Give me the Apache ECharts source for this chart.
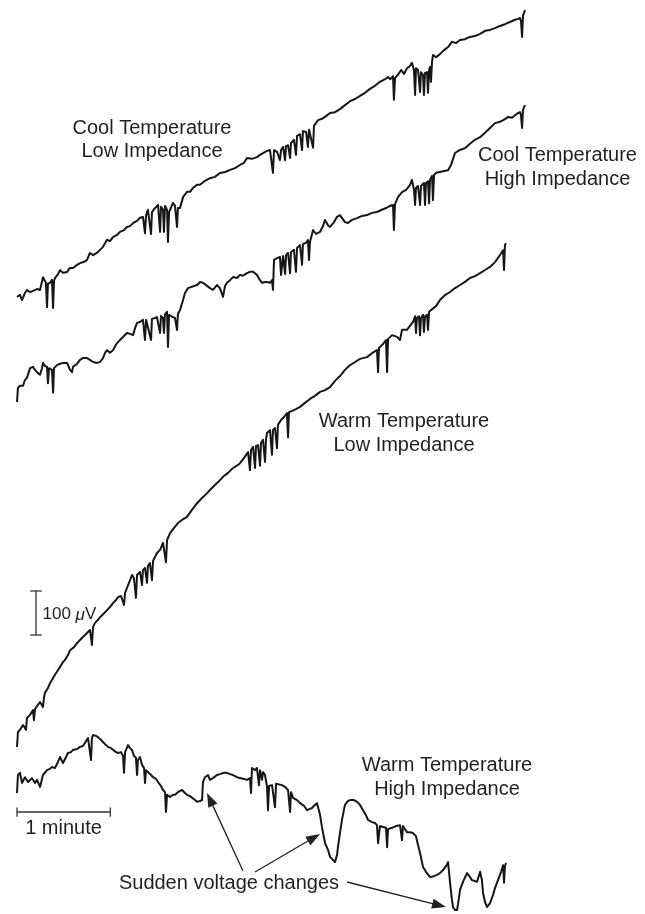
<!DOCTYPE html>
<html><head><meta charset="utf-8">
<script src="https://cdn.jsdelivr.net/npm/echarts@6/dist/echarts.min.js"></script>
<style>html,body{margin:0;padding:0;background:#fff}#c{width:645px;height:914px}</style>
</head><body><div id="c"></div>
<script>
// Each trace: [time (s), voltage change (µV) relative to the trace's starting level]
const coolLow = [[0,0],[1.9,5],[3.2,-7],[5.1,9],[6.4,16],[8.4,11],[10.3,14],[12.9,18],[14.8,16],[16.7,45],[18.6,32],[19.3,-23],[19.9,30],[21.2,32],[22.5,39],[23.2,-25],[23.8,36],[24.4,43],[26.4,52],[27.7,61],[29.6,55],[32.2,57],[34.1,66],[36.0,66],[38.6,73],[40.5,77],[43.1,80],[45.0,84],[46.9,100],[48.9,95],[51.4,100],[53.4,107],[55.3,114],[57.9,130],[59.8,127],[61.7,136],[64.3,141],[66.2,148],[68.8,152],[70.7,159],[72.7,161],[74.6,168],[77.2,173],[79.1,180],[81.0,182],[82.3,145],[83.0,186],[84.2,198],[86.2,143],[86.8,193],[88.7,202],[90.7,209],[92.0,148],[92.6,205],[93.9,198],[94.5,148],[95.2,207],[96.5,198],[97.1,125],[97.8,193],[98.4,198],[100.3,214],[101.6,207],[102.9,159],[103.5,202],[104.8,202],[106.8,227],[109.3,239],[111.3,239],[113.2,248],[115.8,255],[117.7,255],[120.9,264],[124.1,270],[127.3,273],[130.5,282],[133.8,284],[137.0,289],[140.2,293],[143.4,300],[146.0,305],[147.9,316],[151.1,314],[154.3,318],[156.3,323],[158.2,327],[160.8,332],[162.7,334],[164.6,282],[165.3,334],[167.2,330],[169.1,311],[169.8,334],[171.1,341],[172.4,311],[173.0,343],[174.3,345],[175.6,316],[176.2,350],[178.1,357],[179.4,323],[180.1,366],[182.0,370],[183.3,334],[183.9,377],[185.9,375],[187.1,341],[187.8,380],[188.4,384],[190.4,339],[191.0,389],[193.6,402],[196.1,405],[198.7,411],[201.3,418],[204.5,420],[207.7,427],[210.9,436],[214.2,445],[217.4,450],[220.6,457],[223.8,464],[227.0,473],[230.2,480],[233.4,489],[236.7,495],[238.6,500],[239.9,495],[241.8,502],[242.4,448],[243.1,498],[245.0,505],[247.0,516],[248.9,507],[250.8,520],[252.7,525],[254.0,532],[255.3,516],[256.0,459],[256.6,520],[257.9,516],[259.2,466],[259.8,511],[261.1,505],[261.7,459],[262.4,509],[263.7,511],[264.3,464],[265.0,516],[265.6,523],[266.2,489],[266.9,534],[267.5,550],[269.5,545],[272.0,552],[274.6,561],[277.2,568],[279.7,580],[282.3,577],[284.9,584],[288.1,586],[291.3,591],[294.5,593],[297.8,598],[301.0,605],[304.2,607],[307.4,611],[310.6,616],[313.8,620],[317.0,625],[320.3,630],[322.2,632],[323.5,634],[324.1,627],[324.8,591],[325.4,639],[326.7,652]];

const coolHigh = [[0,-32],[0.6,0],[1.9,5],[3.9,5],[5.1,18],[6.4,23],[8.4,45],[10.3,48],[11.6,41],[12.9,36],[14.8,30],[16.1,45],[16.7,57],[18.0,50],[19.3,48],[19.9,11],[20.6,45],[22.5,41],[23.2,-11],[23.8,45],[25.7,52],[27.7,55],[29.6,57],[32.2,57],[34.1,41],[35.4,36],[36.0,48],[38.6,55],[40.5,64],[42.4,68],[45.0,68],[46.9,64],[48.9,59],[51.4,57],[53.4,59],[55.3,68],[56.6,80],[57.9,86],[59.8,80],[61.7,86],[64.3,102],[66.2,109],[68.2,116],[70.7,125],[72.7,123],[74.6,120],[75.9,136],[77.2,148],[79.1,150],[81.0,155],[82.3,109],[83.0,155],[84.2,157],[86.2,109],[86.8,157],[88.7,159],[90.0,161],[92.0,125],[92.6,164],[93.9,159],[94.5,125],[95.2,168],[96.5,173],[97.1,93],[97.8,166],[98.4,170],[100.3,161],[101.6,159],[102.9,132],[103.5,168],[104.8,177],[106.8,200],[108.0,216],[110.0,227],[112.5,230],[115.8,234],[117.7,241],[119.6,239],[122.2,232],[124.1,227],[126.0,223],[128.6,234],[130.5,227],[132.5,207],[133.8,232],[135.0,239],[137.0,245],[138.9,252],[141.5,250],[143.4,257],[145.3,255],[147.9,261],[149.8,264],[151.8,264],[154.3,257],[156.3,245],[157.6,239],[159.5,241],[160.8,241],[162.7,239],[164.0,245],[164.6,223],[165.3,291],[167.2,295],[169.1,298],[169.8,257],[171.1,300],[172.4,259],[173.0,302],[174.3,307],[175.6,261],[176.2,309],[178.1,314],[179.4,264],[180.1,318],[182.0,325],[183.3,280],[183.9,327],[185.9,330],[187.1,336],[187.8,291],[188.4,332],[190.4,359],[192.3,350],[194.9,355],[196.8,368],[198.1,382],[200.0,370],[201.3,366],[203.9,377],[205.8,389],[207.7,393],[210.9,377],[212.9,375],[215.4,382],[218.7,386],[221.9,391],[225.1,393],[228.3,398],[231.5,400],[234.7,405],[237.3,409],[239.9,414],[241.8,416],[242.4,359],[243.1,418],[245.0,434],[247.6,445],[250.2,450],[252.7,461],[254.0,473],[255.3,450],[256.0,416],[256.6,455],[257.9,459],[259.2,416],[259.8,459],[261.7,466],[262.4,416],[263.0,466],[264.3,470],[265.0,420],[265.6,473],[266.9,482],[267.5,427],[268.2,484],[269.5,489],[272.0,491],[274.6,493],[277.2,495],[279.1,507],[281.7,534],[284.9,541],[288.1,545],[291.3,555],[294.5,564],[297.8,570],[301.0,580],[304.2,591],[307.4,602],[310.6,605],[313.8,611],[315.8,616],[318.3,614],[320.3,620],[322.2,625],[323.5,627],[324.1,620],[324.8,591],[325.4,632],[326.7,643]];

const warmLow = [[0,-34],[0.6,0],[1.9,5],[3.9,16],[5.1,20],[5.8,5],[6.4,32],[8.4,39],[10.3,50],[10.9,27],[11.6,52],[12.9,59],[14.8,68],[16.7,57],[17.4,80],[18.0,89],[19.9,100],[21.2,111],[23.2,123],[24.4,130],[26.4,141],[27.7,148],[29.6,159],[30.9,164],[32.8,175],[34.1,186],[36.7,193],[38.6,202],[40.5,209],[42.4,216],[45.0,225],[46.9,232],[48.2,198],[48.9,239],[50.2,248],[52.1,255],[53.4,261],[56.0,270],[57.9,277],[59.8,284],[61.7,293],[63.7,300],[65.0,307],[66.9,309],[68.8,289],[69.5,316],[70.7,327],[72.7,345],[74.0,357],[75.2,350],[76.5,305],[77.2,357],[79.1,364],[80.4,334],[81.0,368],[82.3,373],[83.6,339],[84.2,377],[85.5,384],[86.8,345],[87.5,389],[90.0,407],[92.0,414],[93.9,430],[95.8,386],[96.5,436],[98.4,452],[101.0,464],[103.5,475],[106.1,482],[109.3,489],[112.5,505],[115.8,520],[119.0,532],[122.2,543],[126.0,557],[129.3,568],[132.5,580],[135.7,589],[138.9,600],[142.1,607],[143.4,611],[146.0,623],[148.6,636],[149.8,595],[150.5,641],[151.8,648],[153.1,600],[153.7,650],[155.0,652],[156.3,605],[156.9,657],[158.2,664],[159.5,614],[160.1,664],[160.8,680],[162.7,686],[164.0,630],[164.6,686],[165.9,691],[167.2,645],[167.8,698],[169.8,709],[171.7,716],[173.6,725],[174.3,670],[174.9,727],[176.9,730],[179.4,734],[182.0,739],[185.2,748],[188.4,757],[191.6,764],[194.9,773],[198.1,777],[201.3,784],[204.5,798],[207.7,809],[210.9,823],[214.2,834],[217.4,841],[220.6,848],[225.1,852],[228.3,861],[231.5,868],[232.2,818],[232.8,873],[235.4,882],[237.3,891],[238.0,818],[238.6,893],[241.2,902],[244.4,898],[246.3,891],[247.6,914],[250.8,914],[252.7,923],[254.7,932],[256.0,945],[256.6,907],[257.2,941],[258.5,945],[259.2,902],[259.8,941],[261.1,948],[261.7,909],[262.4,945],[263.7,948],[264.3,914],[265.0,955],[266.9,961],[269.5,968],[272.0,982],[275.3,993],[278.5,1000],[281.7,1009],[284.9,1016],[288.1,1023],[291.3,1032],[294.5,1036],[297.8,1043],[301.0,1050],[304.2,1057],[307.4,1068],[310.6,1084],[312.6,1095],[313.2,1050],[313.8,1107],[314.5,1111]];

const warmHigh = [[0,-41],[0.6,0],[1.9,5],[3.2,-18],[5.1,-5],[7.1,-16],[9.6,-7],[11.6,-18],[12.9,-11],[14.8,-27],[16.7,0],[19.3,11],[21.2,14],[22.5,18],[24.4,16],[26.4,30],[27.7,41],[29.6,27],[31.5,41],[32.8,50],[34.7,52],[36.0,57],[38.6,59],[40.5,64],[42.4,66],[43.7,73],[45.7,84],[46.9,80],[47.6,34],[48.2,84],[48.9,91],[50.8,89],[52.1,86],[54.0,80],[55.3,75],[57.2,68],[58.5,64],[60.5,61],[61.7,57],[63.7,52],[65.0,50],[66.9,52],[68.2,43],[68.8,5],[69.5,52],[71.4,68],[72.7,61],[74.0,57],[75.2,43],[76.5,39],[77.2,0],[77.8,34],[79.1,41],[80.4,23],[81.7,16],[82.3,-18],[83.0,11],[84.2,7],[86.2,0],[87.5,-5],[89.4,-9],[90.7,-16],[92.6,-25],[93.9,-34],[95.2,-39],[95.8,-84],[96.5,-45],[98.4,-50],[100.3,-45],[101.6,-45],[103.5,-39],[106.1,-34],[108.0,-41],[109.3,-45],[111.3,-48],[112.5,-52],[114.5,-57],[115.8,-61],[117.7,-59],[119.0,-57],[119.6,-16],[120.9,-5],[122.8,0],[124.1,-11],[126.0,-7],[128.6,0],[130.5,2],[133.1,5],[135.0,5],[137.0,2],[138.9,0],[141.5,-5],[143.4,-7],[146.0,-9],[147.9,-11],[149.8,-7],[150.5,-41],[151.1,16],[153.1,11],[154.3,16],[155.6,-23],[156.3,11],[157.6,-11],[158.2,7],[159.5,0],[160.8,-27],[161.4,-80],[162.1,-25],[164.0,-23],[165.9,-73],[166.6,-20],[167.8,-18],[170.4,-23],[172.4,-27],[174.3,-34],[175.6,-84],[176.2,-39],[177.5,-52],[180.1,-57],[182.0,-64],[184.6,-70],[186.5,-80],[188.4,-77],[189.7,-75],[191.6,-68],[192.9,-64],[193.6,-73],[194.9,-91],[196.1,-118],[198.1,-155],[200.0,-170],[201.3,-186],[203.2,-193],[204.5,-198],[205.8,-182],[206.4,-164],[207.7,-132],[209.0,-102],[210.9,-68],[212.9,-59],[214.2,-57],[216.7,-57],[218.7,-61],[220.6,-68],[222.5,-80],[224.4,-91],[225.7,-102],[228.3,-107],[230.2,-109],[231.5,-114],[232.2,-155],[233.4,-116],[235.4,-118],[237.3,-120],[238.0,-164],[238.6,-123],[241.2,-120],[243.7,-116],[246.3,-114],[247.6,-148],[248.2,-116],[250.8,-130],[252.7,-130],[254.7,-132],[256.6,-139],[257.2,-141],[257.9,-159],[259.2,-177],[261.1,-209],[263.0,-220],[265.6,-232],[268.2,-230],[270.1,-227],[272.0,-223],[274.0,-216],[275.9,-207],[277.2,-198],[278.5,-245],[279.7,-284],[280.4,-300],[281.7,-307],[283.0,-307],[284.2,-280],[284.9,-261],[286.8,-243],[289.4,-223],[291.3,-232],[292.6,-239],[294.5,-241],[295.8,-243],[297.8,-220],[299.0,-239],[299.7,-268],[301.0,-289],[302.3,-300],[304.2,-291],[306.1,-273],[307.4,-257],[309.3,-239],[311.3,-220],[312.6,-205],[313.2,-245],[313.8,-207],[314.5,-200]];

// Scale bars (values)
const scaleTime = [0, 60];      // s  -> "1 minute"
const scaleVolt = [0, 100];     // µV -> "100 µV"

// ---- layout (display offsets / geometry) ----
const PX_PER_MIN = 93.3, PX_PER_100UV = 44, W = 645, H = 914, LEFT = 17;
const X_MAX = (W - LEFT) / PX_PER_MIN * 60;
const Y_MAX = H / PX_PER_100UV * 100;
const offsets = { coolLow: 1402.3, coolHigh: 1195.5, warmLow: 413.6, warmHigh: 315.9 };
const minuteBarLevel = 231.8, minuteTick = 10.5;
const voltBarTime = 12.2, voltBarBase = 634.1, voltTickHalf = 3.7;

const INK = '#161616', TXT = '#231f20';
const FONT = "'Liberation Sans', Arial, Helvetica, sans-serif";

function trace(name, arr) {
  return {
    type: 'line', name, silent: true, symbol: 'none', animation: false,
    lineStyle: { color: INK, width: 2, join: 'round', cap: 'butt' },
    data: arr.map(p => [p[0], p[1] + offsets[name]])
  };
}
function seg(a, b, w) {
  return { type: 'line', silent: true, symbol: 'none', animation: false,
    lineStyle: { color: '#333', width: w || 1.3 }, data: [a, b] };
}
const tb0 = scaleTime[0], tb1 = scaleTime[1];
const vb0 = voltBarBase + scaleVolt[0], vb1 = voltBarBase + scaleVolt[1];

const series = [
  trace('coolLow', coolLow), trace('coolHigh', coolHigh),
  trace('warmLow', warmLow), trace('warmHigh', warmHigh),
  seg([tb0, minuteBarLevel], [tb1, minuteBarLevel]),
  seg([tb0, minuteBarLevel - minuteTick], [tb0, minuteBarLevel + minuteTick]),
  seg([tb1, minuteBarLevel - minuteTick], [tb1, minuteBarLevel + minuteTick]),
  seg([voltBarTime, vb0], [voltBarTime, vb1]),
  seg([voltBarTime - voltTickHalf, vb0], [voltBarTime + voltTickHalf, vb0]),
  seg([voltBarTime - voltTickHalf, vb1], [voltBarTime + voltTickHalf, vb1])
];

function label(text, x, y, size, align) {
  return { type: 'text', x, y, silent: true,
    style: { text, fill: TXT, font: (size || 20) + 'px ' + FONT, align: align || 'center', verticalAlign: 'middle' } };
}
function arrow(x1, y1, x2, y2) {
  const dx = x2 - x1, dy = y2 - y1, L = Math.hypot(dx, dy), ux = dx / L, uy = dy / L;
  const hl = 14, hw = 5, bx = x2 - ux * hl, by = y2 - uy * hl;
  return [
    { type: 'line', silent: true, shape: { x1, y1, x2: bx + ux * 2, y2: by + uy * 2 }, style: { stroke: '#222', lineWidth: 1.3 } },
    { type: 'polygon', silent: true, shape: { points: [[x2, y2], [bx - uy * hw, by + ux * hw], [bx + uy * hw, by - ux * hw]] }, style: { fill: '#222' } }
  ];
}

const graphic = [
  label('Cool Temperature', 152, 128), label('Low Impedance', 152, 151.5),
  label('Cool Temperature', 557.5, 155.3), label('High Impedance', 557.5, 179),
  label('Warm Temperature', 404, 421.3), label('Low Impedance', 404, 445.3),
  label('Warm Temperature', 447, 765.3), label('High Impedance', 447, 789.7),
  label('Sudden voltage changes', 229, 883.7),
  label('1 minute', 63.5, 828),
  { type: 'text', x: 42.5, y: 614.8, silent: true,
    style: { text: '100 {i|μ}V', fill: TXT, font: '17px ' + FONT, align: 'left', verticalAlign: 'middle',
      rich: { i: { fontStyle: 'italic', fontSize: 17, fontFamily: FONT, fill: TXT } } } }
].concat(arrow(243, 871, 207, 793), arrow(255, 872, 320, 834), arrow(347, 882, 446, 907));

const chart = echarts.init(document.getElementById('c'), null, { renderer: 'canvas' });
chart.setOption({
  animation: false,
  backgroundColor: '#fff',
  grid: { left: LEFT, right: 0, top: 0, bottom: 0 },
  xAxis: { type: 'value', min: 0, max: X_MAX, show: false },
  yAxis: { type: 'value', min: 0, max: Y_MAX, show: false },
  series,
  graphic
});
</script></body></html>
